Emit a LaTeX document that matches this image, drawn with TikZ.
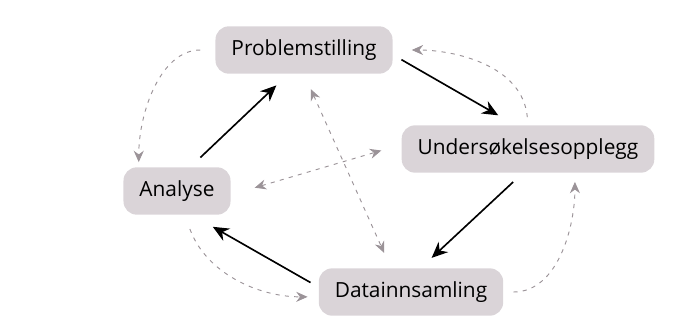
\documentclass[tikz,border=0pt]{standalone}
\usepackage{fontspec}
\setsansfont{Open Sans}
\usetikzlibrary{arrows.meta}
\definecolor{boxgray}{RGB}{218,212,216}
\definecolor{dashgray}{RGB}{155,147,152}

\begin{document}
\begin{tikzpicture}[x=0.03cm,y=-0.03cm]
	\tikzstyle{every node}+=[inner sep=0pt]
	\tikzstyle{phase}=[fill=boxgray, text=black, rounded corners=0.4cm, minimum height=1.42cm, inner xsep=0.48cm, font=\sffamily\fontsize{17.8}{20}\selectfont]
	\tikzstyle{flow}=[black, line width=1.4pt, -{Stealth[length=0.48cm,width=0.42cm]}]
	\tikzstyle{link}=[dashgray, line width=0.8pt, dash pattern=on 3.5pt off 4.5pt, -{Stealth[length=0.34cm,width=0.3cm]}]
	\tikzstyle{twoway}=[link, {Stealth[length=0.34cm,width=0.3cm]}-{Stealth[length=0.34cm,width=0.3cm]}]
	\useasboundingbox (0,0) rectangle (677,322);
	\node [phase] (prob) at (304,50) {Problemstilling};
	\node [phase] (und) at (528,149) {Undersøkelsesopplegg};
	\node [phase] (ana) at (177,191) {Analyse};
	\node [phase] (dat) at (411,292) {Datainnsamling};
	\draw [flow, shorten <=0.42cm, shorten >=0.5cm] (ana.61) -- (prob.-123);
	\draw [flow, shorten <=0.3cm, shorten >=0.59cm] (prob.-3) -- (und.118);
	\draw [flow, shorten <=0.4cm, shorten >=0.45cm] (und.-102) -- (dat.68);
	\draw [flow, shorten <=0.28cm, shorten >=0.72cm] (dat.177) -- (ana.-58);
	\draw [link, shorten <=0.45cm, shorten >=0.15cm] (prob.west) to [out=180, in=90] (ana.148);
	\draw [link, shorten <=0.24cm, shorten >=0.57cm] (und.north) to [out=95, in=0] (prob.east);
	\draw [link, shorten <=0.3cm, shorten >=0.27cm] (dat.east) to [out=0, in=-90] (und.-27);
	\draw [link, shorten <=0.45cm, shorten >=0.33cm] (ana.-72) to [out=-70, in=180] (dat.183);
	\draw [twoway, shorten <=0.5cm, shorten >=0.5cm] (prob.south) -- (dat.130);
	\draw [twoway, shorten <=0.75cm, shorten >=0.63cm] (ana.-4) -- (und.178);
\end{tikzpicture}
\end{document}
